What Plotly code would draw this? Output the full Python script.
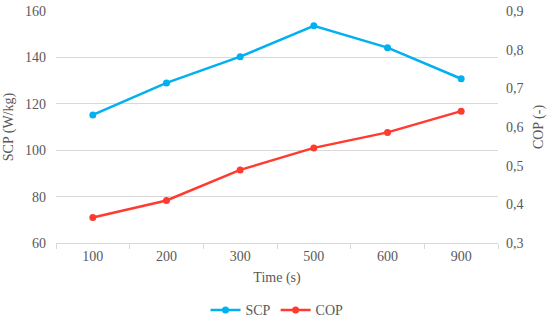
import plotly.graph_objects as go

categories = ["100", "200", "300", "500", "600", "900"]
scp = [115.2, 129.0, 140.3, 153.6, 144.2, 130.8]
cop = [0.366, 0.410, 0.489, 0.546, 0.586, 0.641]

font_family = "Liberation Serif"
text_color = "#595959"
grid_color = "#d9d9d9"
tf = dict(family=font_family, size=14, color=text_color)

fig = go.Figure()
fig.add_trace(go.Scatter(
    x=categories, y=scp, name="SCP", mode="lines+markers",
    line=dict(color="#00B0F0", width=2.5),
    marker=dict(size=7, color="#00B0F0"),
))
fig.add_trace(go.Scatter(
    x=categories, y=cop, name="COP", mode="lines+markers", yaxis="y2",
    line=dict(color="#FF3B30", width=2.5),
    marker=dict(size=7, color="#FF3B30"),
))

fig.update_layout(
    template="none",
    width=550, height=321,
    margin=dict(l=56, r=52, t=11, b=78, autoexpand=False),
    paper_bgcolor="white", plot_bgcolor="white",
    font=tf,
    showlegend=True,
    legend=dict(orientation="h", x=0.5, xanchor="center", y=-0.29, yanchor="middle",
                font=tf, itemwidth=30),
    xaxis=dict(
        type="category", title=dict(text="Time (s)", standoff=9, font=tf),
        tickfont=tf, automargin=False,
        showgrid=False, showline=True, linecolor=grid_color, linewidth=1,
        ticks="outside", tickson="boundaries", ticklen=5, tickcolor=grid_color,
        range=[-0.5, 5.5], zeroline=False,
    ),
    yaxis=dict(
        title=dict(text="SCP (W/kg)", standoff=8, font=tf),
        tickfont=tf, automargin=False, ticklabelstandoff=9,
        range=[60, 160], dtick=20, showgrid=True, gridcolor=grid_color, gridwidth=1,
        zeroline=False, showline=False, ticks="",
    ),
    yaxis2=dict(
        title=dict(text="COP (-)", standoff=10, font=tf),
        tickfont=tf, automargin=False, ticklabelstandoff=7,
        overlaying="y", side="right",
        range=[0.3, 0.9], dtick=0.1, tickformat=".1f",
        showgrid=False, zeroline=False, showline=False, ticks="",
    ),
    separators=",.",
)

fig.write_html("out.html", config={"displayModeBar": False},
               post_script="document.body.style.margin='0';")
